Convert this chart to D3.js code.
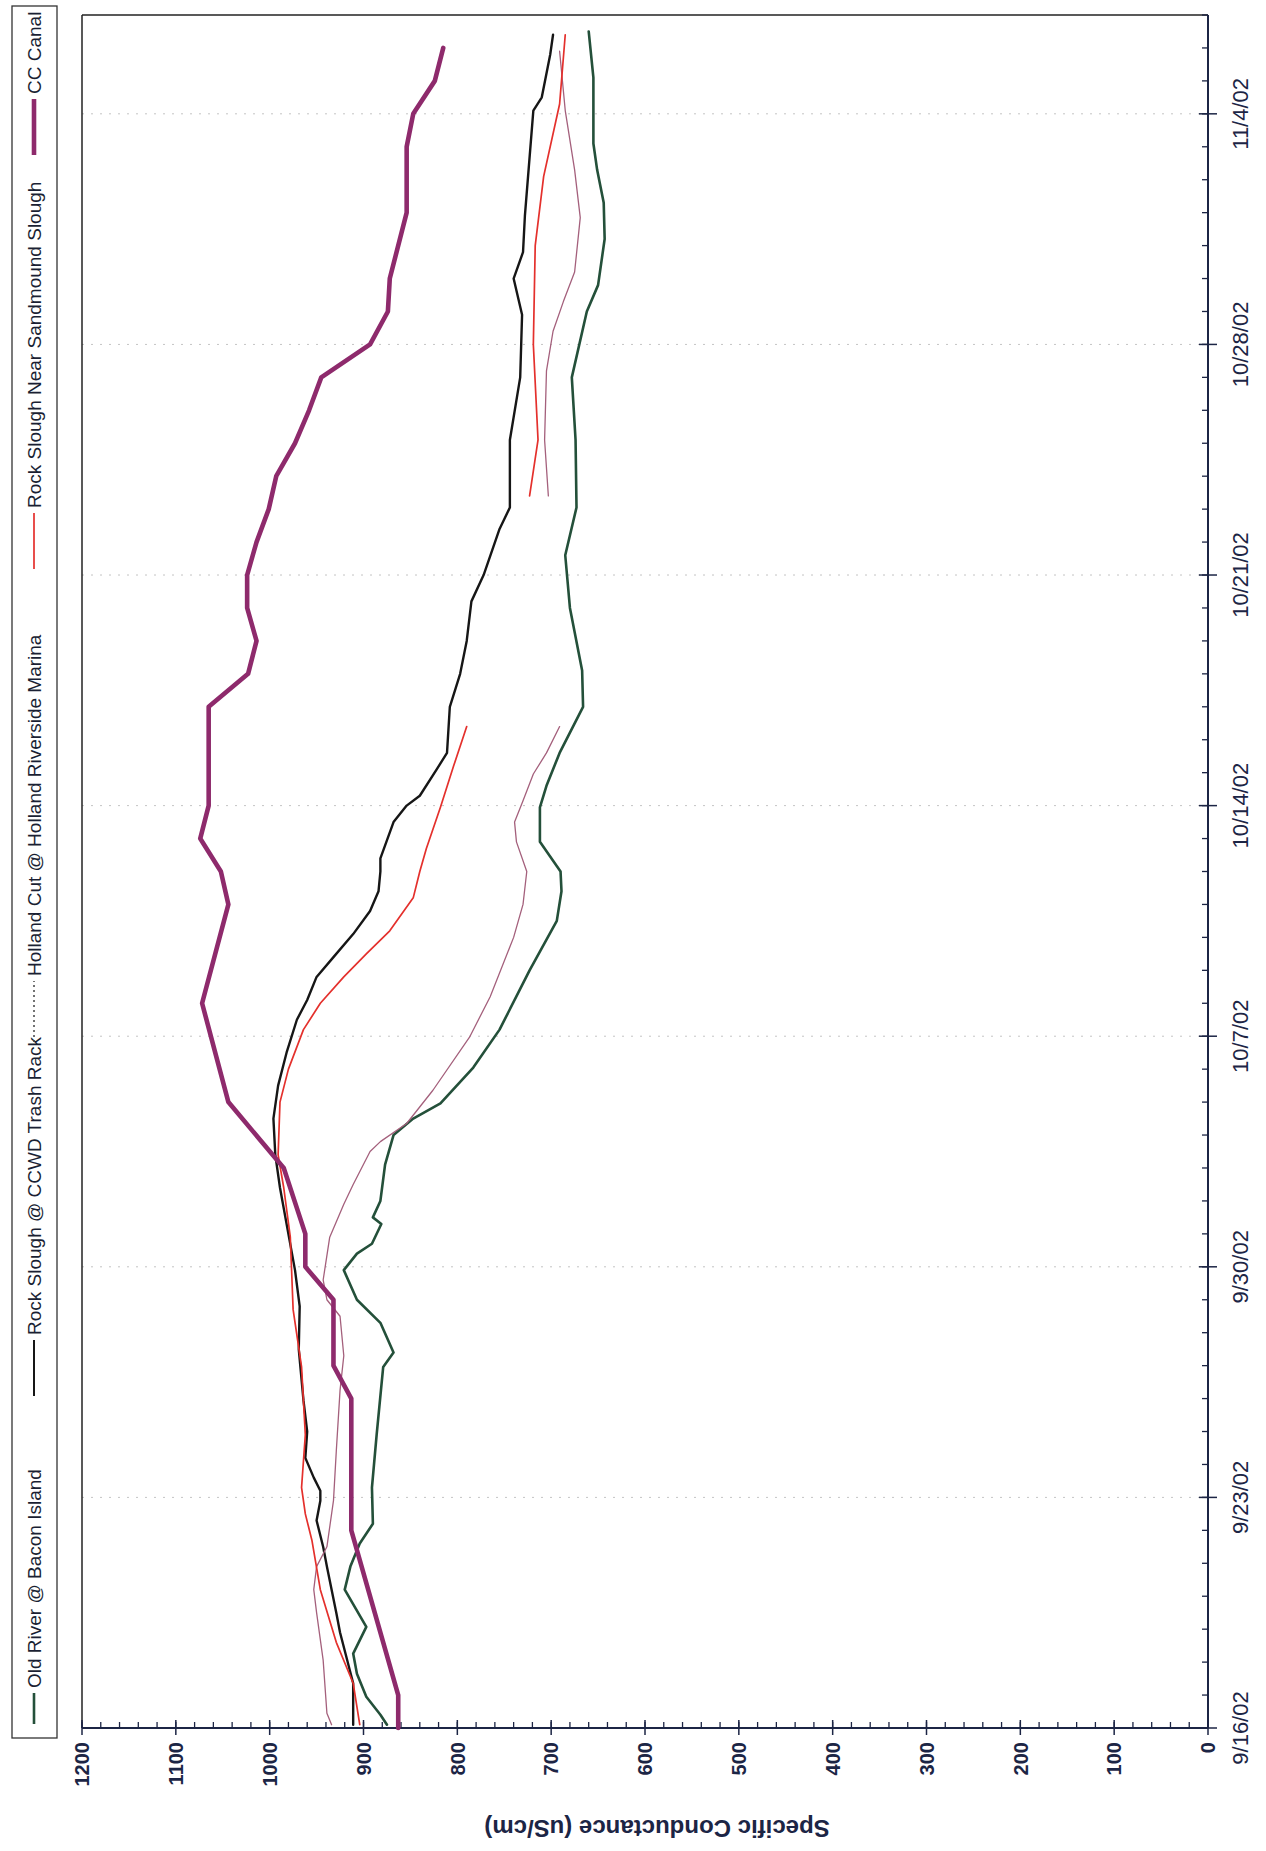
<!DOCTYPE html>
<html><head><meta charset="utf-8">
<script src="https://cdn.jsdelivr.net/npm/d3@7"></script>
<style>body{margin:0;background:#fff}svg{display:block}</style>
</head><body>
<svg id="chart" width="1266" height="1851"></svg>
<script>
// ---------------- DATA ----------------
const startDate = new Date(2002, 8, 16);   // 9/16/02
const endDate   = new Date(2002, 10, 7);   // 11/7/02
const dateTickLabels = ["9/16/02","9/23/02","9/30/02","10/7/02","10/14/02","10/21/02","10/28/02","11/4/02"];
const valueTickLabels = [0,100,200,300,400,500,600,700,800,900,1000,1100,1200];
const seriesNames = ["Old River @ Bacon Island","Rock Slough @ CCWD Trash Rack","Holland Cut @ Holland Riverside Marina","Rock Slough Near Sandmound Slough","CC Canal"];

// days since 9/16/02 00:00, and specific conductance (uS/cm); null = gap in record
const oldRiverDays   = [0.1,0.4,0.95,1.65,2.26,3.07,4.2,4.9,5.6,6.2,7.3,8.9,10.96,11.4,12.3,13.0,13.9,14.4,14.7,15.3,15.5,16.0,17.1,18.0,18.5,18.96,20.05,21.2,23.0,24.5,25.4,26.0,26.9,27.95,28.6,29.6,31.0,32.1,34.0,35.6,37.05,39.1,41.0,43.0,43.8,45.2,46.3,47.3,48.1,50.1,51.5];
const oldRiverValues = [875,882,897,907,911,897,920,914,904,890,891,886,879,868,882,907,921,907,891,881,890,882,877,868,847,818,783,755,723,694,689,690,712,712,705,691,666,667,680,685,673,674,678,662,650,643,644,651,655,655,660];

const ccwdDays   = [0.1,1.36,2.9,3.5,4.9,5.5,6.3,6.9,7.2,7.6,8.2,9.0,9.95,11.5,12.8,13.9,16.4,17.4,18.5,19.5,20.5,21.5,22.1,22.8,23.4,24.1,24.8,25.4,26.0,26.4,27.5,28.0,28.3,29.1,29.6,31.0,32.0,33.0,34.2,35.0,36.4,37.05,39.1,41.0,42.9,44.0,44.8,45.9,49.1,49.5,50.8,51.4];
const ccwdValues = [911,911,925,929,939,943,950,946,946,953,962,960,964,969,968,973,989,994,996,991,982,971,960,950,932,911,893,884,882,882,868,854,840,822,811,808,797,790,785,772,755,744,744,733,731,740,730,728,719,710,701,698];

const hollandDays   = [0.1,0.45,2.06,3.5,4.2,4.9,5.5,6.9,8.4,10.25,11.3,12.5,13.0,13.6,14.9,15.9,16.5,17.5,17.8,18.35,19.36,20.97,22.2,24.0,25.0,26.0,26.9,27.5,28.15,28.96,29.6,30.4,34.0,37.4,39.1,41.2,42.4,43.3,44.2,45.85,47.3,49.1,50.3,50.9];
const hollandValues = [934,939,943,950,953,950,939,932,929,925,921,925,939,943,936,921,911,893,882,854,826,787,765,740,730,726,737,739,730,719,705,691,null,703,707,705,698,687,675,669,675,685,689,691];

const sandmoundDays   = [0.1,1.36,2.6,4.2,5.7,6.5,7.3,8.9,10.96,12.7,14.9,16.4,17.4,19.0,20.0,21.2,22.0,22.8,23.5,24.2,25.2,26.0,26.7,27.95,29.2,30.4,34.0,37.4,39.1,42.0,45.0,47.1,49.3,51.4];
const sandmoundValues = [904,911,929,946,955,962,966,962,966,975,978,985,991,989,980,964,946,921,897,872,847,840,833,818,804,790,null,723,714,719,717,708,691,685];

const ccCanalDays   = [0,1,6,10,11,13,14,15,17,19,22,25,26,27,28,31,32,33,34,35,36,37,38,39,40,41,42,43,44,46,48,49,50,51];
const ccCanalValues = [863,863,913,913,932,932,962,962,985,1044,1072,1044,1052,1074,1065,1065,1023,1014,1024,1024,1014,1001,993,973,958,945,893,874,872,854,854,847,824,815];

// ---------------- LAYOUT ----------------
const svg = d3.select("#chart");
const X0 = 82, Y0 = 1728;          // screen position of (1200 uS/cm, 9/16/02)
const W = 1713, H = 1126;          // original (unrotated) plot width/height
const navy = "#1c2545";
const font = "Liberation Sans, Arial, sans-serif";

const g = svg.append("g").attr("transform", `translate(${X0},${Y0}) rotate(-90)`);

const x = d3.scaleTime().domain([startDate, endDate]).range([0, W]);
const y = d3.scaleLinear().domain([0, 1200]).range([H, 0]);
const dayToDate = d => d3.timeMinute.offset(startDate, Math.round(d * 1440));

// gridlines at weekly dates
const majorDates = dateTickLabels.map((l, i) => d3.timeDay.offset(startDate, 7 * i));
g.append("g").selectAll("line").data(majorDates.slice(1)).join("line")
  .attr("x1", d => x(d)).attr("x2", d => x(d)).attr("y1", 0).attr("y2", H)
  .attr("stroke", "#c4c4c4").attr("stroke-width", 1).attr("stroke-dasharray", "2,7");

// frame (screen left and screen top)
g.append("line").attr("x1", 0).attr("x2", W).attr("y1", 0).attr("y2", 0).attr("stroke", "#222").attr("stroke-width", 1.5);
g.append("line").attr("x1", W).attr("x2", W).attr("y1", 0).attr("y2", H).attr("stroke", "#222").attr("stroke-width", 1.5);

// date axis (screen right)
const dateAxis = g.append("g").attr("transform", `translate(0,${H})`);
dateAxis.append("line").attr("x1", 0).attr("x2", W).attr("stroke", navy).attr("stroke-width", 2);
const allDays = d3.timeDay.range(startDate, d3.timeDay.offset(endDate, 1));
dateAxis.selectAll("line.minor").data(allDays).join("line").attr("class", "minor")
  .attr("x1", d => x(d)).attr("x2", d => x(d)).attr("y1", -6).attr("y2", 0)
  .attr("stroke", navy).attr("stroke-width", 1.3);
dateAxis.selectAll("line.major").data(majorDates).join("line").attr("class", "major")
  .attr("x1", d => x(d)).attr("x2", d => x(d)).attr("y1", -9).attr("y2", 9)
  .attr("stroke", navy).attr("stroke-width", 1.5);
dateAxis.selectAll("text").data(majorDates).join("text")
  .attr("x", d => x(d)).attr("y", 32).attr("dy", "0.35em")
  .attr("text-anchor", "middle").attr("font-family", font)
  .attr("font-size", 22).attr("fill", navy)
  .text((d, i) => dateTickLabels[i]);

// value axis (screen bottom)
const valAxis = g.append("g");
valAxis.append("line").attr("y1", 0).attr("y2", H).attr("stroke", navy).attr("stroke-width", 2);
const minorVals = d3.range(0, 1201, 20);
valAxis.selectAll("line.minor").data(minorVals).join("line").attr("class", "minor")
  .attr("x1", 0).attr("x2", 6).attr("y1", d => y(d)).attr("y2", d => y(d))
  .attr("stroke", navy).attr("stroke-width", 1.3);
valAxis.selectAll("line.major").data(valueTickLabels).join("line").attr("class", "major")
  .attr("x1", -7).attr("x2", 8).attr("y1", d => y(d)).attr("y2", d => y(d))
  .attr("stroke", navy).attr("stroke-width", 1.5);
valAxis.selectAll("text").data(valueTickLabels).join("text")
  .attr("x", -14).attr("y", d => y(d)).attr("dy", "0.36em")
  .attr("text-anchor", "end").attr("font-family", font)
  .attr("font-size", 20).attr("font-weight", "bold").attr("fill", navy)
  .text(d => d);

// axis title
g.append("text").attr("transform", `translate(-100,${H / 2 + 12}) rotate(-90)`)
  .attr("text-anchor", "middle").attr("dy", "0.35em")
  .attr("font-family", font).attr("font-size", 24)
  .attr("font-weight", "bold").attr("fill", navy)
  .text("Specific Conductance (uS/cm)");

// series
const series = [
  {name: seriesNames[0], days: oldRiverDays,  values: oldRiverValues,  color: "#24503a", width: 2.6},
  {name: seriesNames[1], days: ccwdDays,      values: ccwdValues,      color: "#161616", width: 2.4},
  {name: seriesNames[2], days: hollandDays,   values: hollandValues,   color: "#a4607c", width: 1.3},
  {name: seriesNames[3], days: sandmoundDays, values: sandmoundValues, color: "#e4302c", width: 1.7},
  {name: seriesNames[4], days: ccCanalDays,   values: ccCanalValues,   color: "#8e2a6c", width: 4.6}
];
const line = d3.line().defined(d => d.v != null).x(d => x(d.t)).y(d => y(d.v)).curve(d3.curveLinear);
g.append("g").selectAll("path").data(series).join("path")
  .attr("d", s => line(s.days.map((dd, i) => ({t: dayToDate(dd), v: s.values[i]}))))
  .attr("fill", "none").attr("stroke", s => s.color).attr("stroke-width", s => s.width)
  .attr("stroke-linejoin", "round").attr("stroke-linecap", "round");

// legend (screen left strip)
const legend = g.append("g");
legend.append("rect").attr("x", -10).attr("y", -70).attr("width", 1732).attr("height", 45)
  .attr("fill", "none").attr("stroke", "#333").attr("stroke-width", 1.3);
const legendTextStart = [40, 393, 752, 1220, 1634];
const legendLineLen = [30, 55, 60, 55, 55];
const legendStyles = [
  {color: "#24503a", width: 2.6, dash: null},
  {color: "#161616", width: 2, dash: null},
  {color: "#444", width: 1.5, dash: "2,3"},
  {color: "#e4302c", width: 1.7, dash: null},
  {color: "#8e2a6c", width: 4.6, dash: null}
];
seriesNames.forEach((name, i) => {
  const ts = legendTextStart[i];
  legend.append("line").attr("x1", ts - 6 - legendLineLen[i]).attr("x2", ts - 5).attr("y1", -48).attr("y2", -48)
    .attr("stroke", legendStyles[i].color).attr("stroke-width", legendStyles[i].width)
    .attr("stroke-dasharray", legendStyles[i].dash);
  legend.append("text").attr("x", ts).attr("y", -48).attr("dy", "0.36em")
    .attr("font-family", font).attr("font-size", 19)
    .attr("fill", "#1a1f33").text(name);
});
</script>
</body></html>
